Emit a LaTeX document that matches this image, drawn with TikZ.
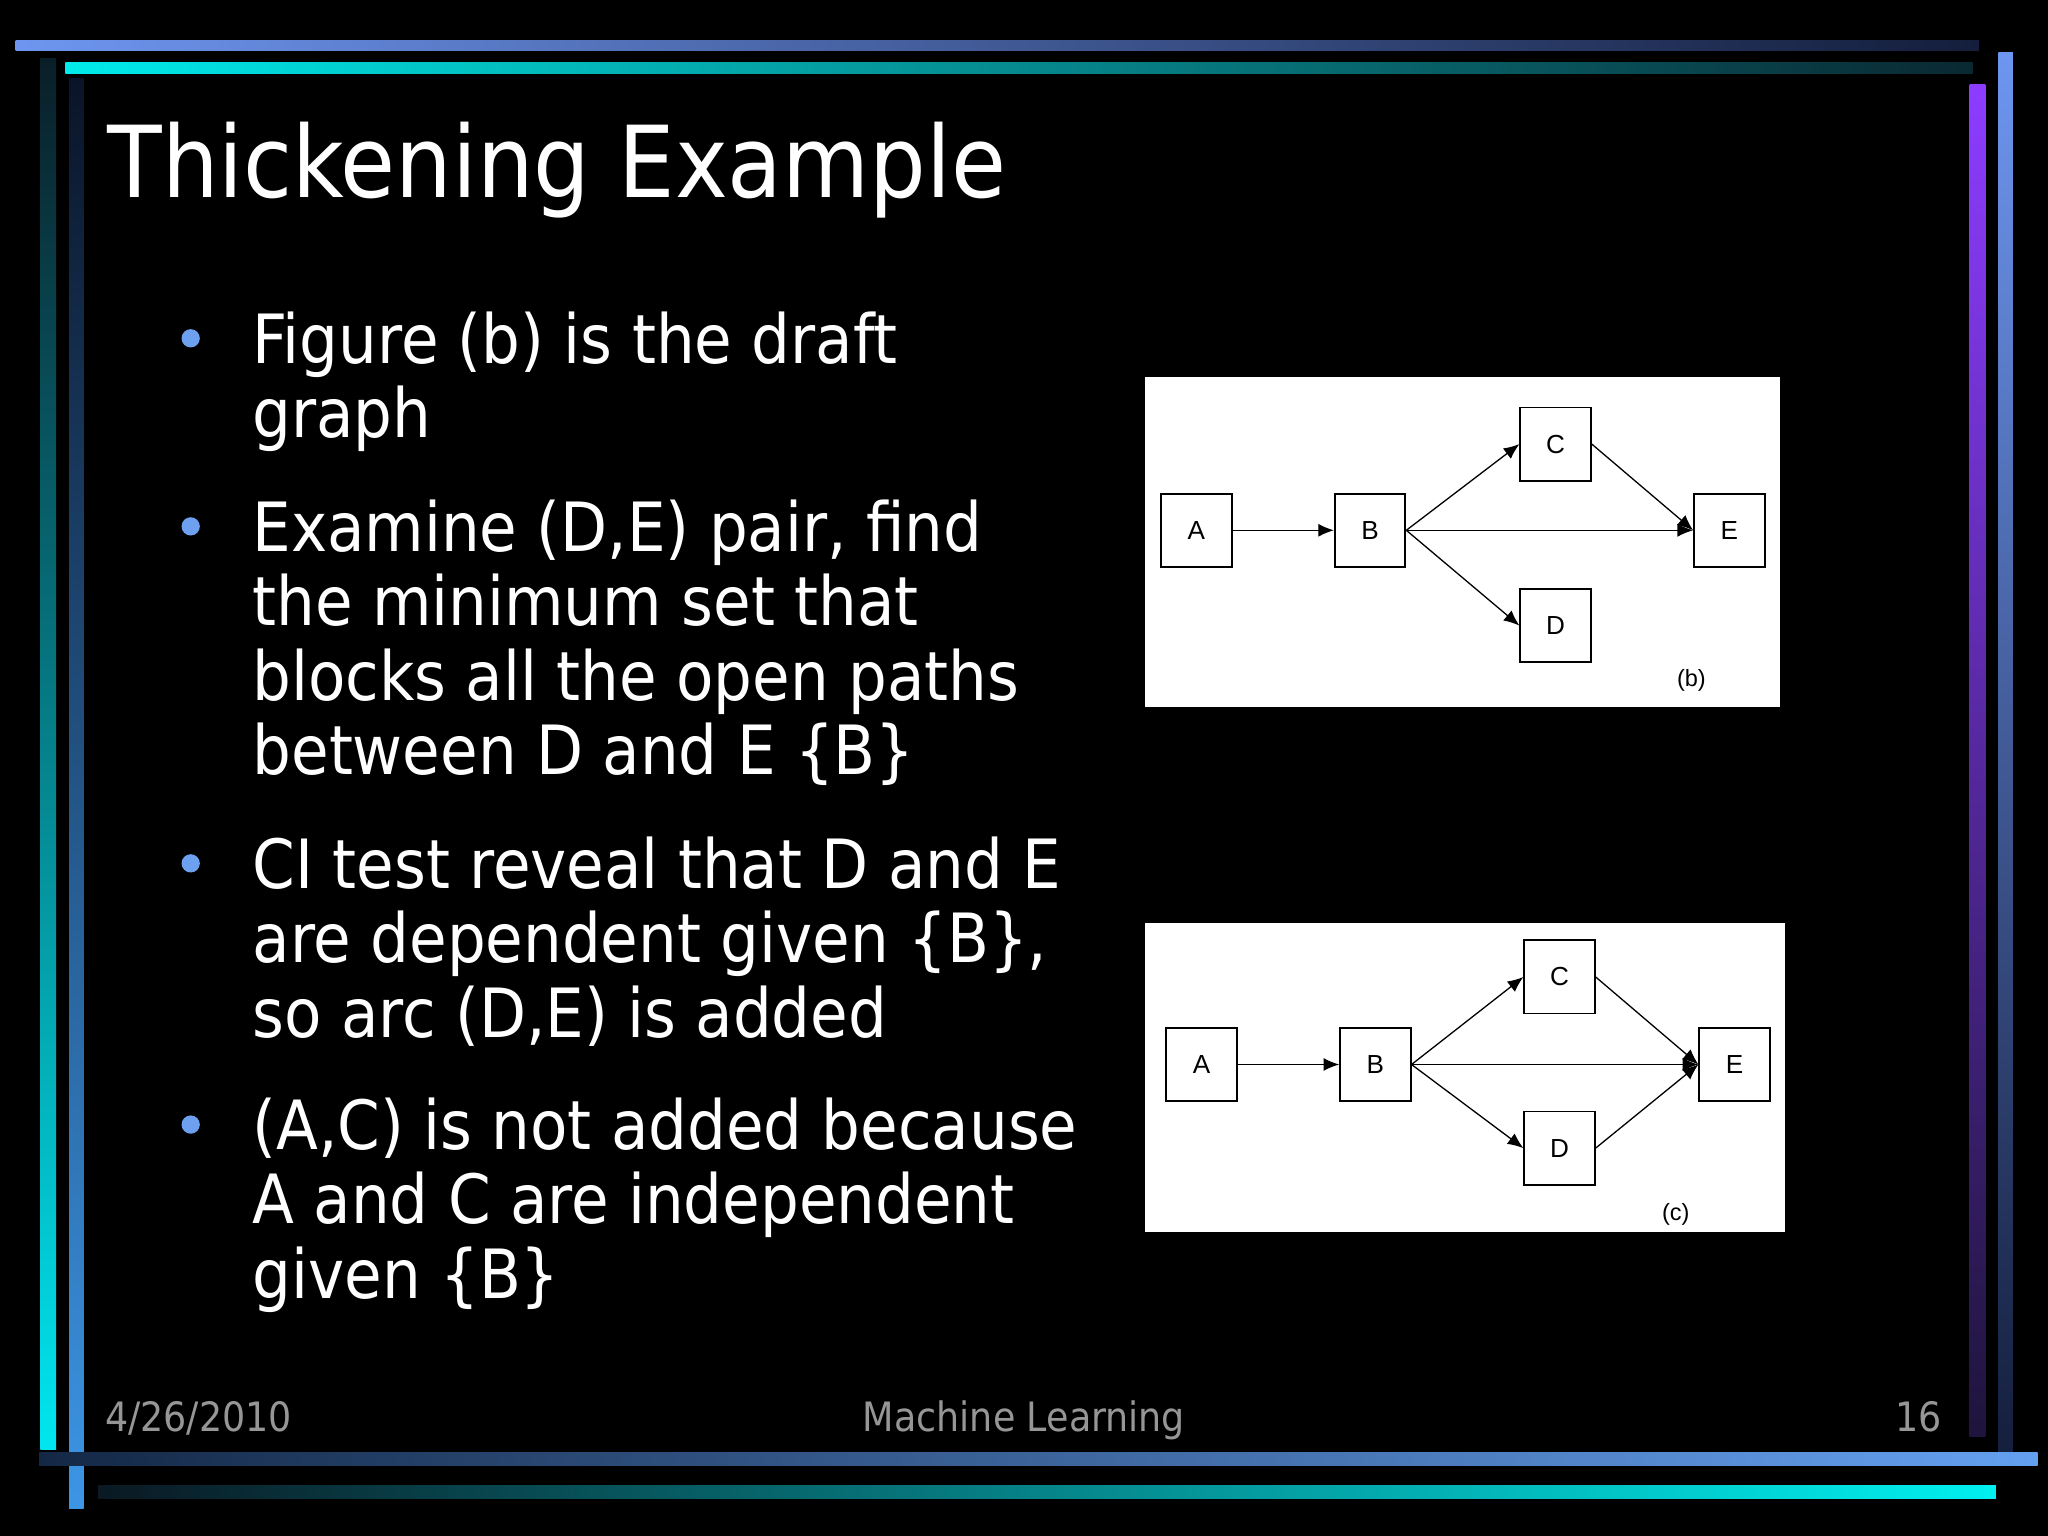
\documentclass[tikz,border=0pt]{standalone}
\usepackage{fontspec}
\setmainfont{DejaVu Sans Condensed}
\newfontfamily\nodefont{Liberation Sans}
\usetikzlibrary{arrows.meta}
\definecolor{bul}{RGB}{110,160,240}
\definecolor{foot}{RGB}{150,150,150}
\tikzset{
  bx/.style={draw=black,fill=white,line width=0.7pt,minimum width=27pt,minimum height=28pt,inner sep=0pt,font=\nodefont\fontsize{10}{10}\selectfont},
  ar/.style={-{Latex[length=6pt,width=5pt]},line width=0.5pt},
  body/.style={anchor=base west,align=left,text=white,font=\fontsize{26}{28.5}\selectfont,inner sep=0pt},
  bullet/.style={circle,fill=bul,inner sep=0pt,minimum size=7pt},
  ft/.style={text=foot,font=\fontsize{15.5}{16}\selectfont,inner sep=0pt,anchor=base}
}
\begin{document}
\begin{tikzpicture}[x=0.5pt,y=-0.5pt]
\fill[black] (0,0) rectangle (1568,1176);
\useasboundingbox (0,0) rectangle (1568,1176);
% frame bars
\shade[left color={rgb,255:red,110;green,150;blue,240},right color={rgb,255:red,20;green,30;blue,60}] (12,31) rectangle (1515,39);
\shade[left color={rgb,255:red,0;green,235;blue,235},right color={rgb,255:red,10;green,40;blue,50}] (50,48) rectangle (1510,56);
\shade[top color={rgb,255:red,10;green,30;blue,40},bottom color={rgb,255:red,0;green,230;blue,240}] (31,45) rectangle (43,1110);
\shade[top color={rgb,255:red,10;green,20;blue,40},bottom color={rgb,255:red,60;green,150;blue,230}] (53,60) rectangle (64,1155);
\shade[top color={rgb,255:red,140;green,60;blue,255},bottom color={rgb,255:red,30;green,20;blue,60}] (1508,65) rectangle (1520,1100);
\shade[top color={rgb,255:red,110;green,150;blue,240},bottom color={rgb,255:red,20;green,30;blue,60}] (1530,40) rectangle (1541,1120);
\shade[left color={rgb,255:red,20;green,40;blue,70},right color={rgb,255:red,100;green,160;blue,240}] (30,1112) rectangle (1560,1122);
\shade[left color={rgb,255:red,10;green,25;blue,35},right color={rgb,255:red,0;green,240;blue,240}] (75,1137) rectangle (1528,1147);
% title
\node[anchor=base west,text=white,font=\fontsize{38}{38}\selectfont,inner sep=0pt] (title) at (82,151) {Thickening Example};
% bullets
\node[bullet] (b1) at (146,259) {};
\node[bullet] (b2) at (146,403) {};
\node[bullet] (b3) at (146,661) {};
\node[bullet] (b4) at (146,861) {};
\node[body] (t1) at (193,335) {Figure (b) is the draft\\graph};
\node[body] (t2) at (193,593) {Examine (D,E) pair, find\\the minimum set that\\blocks all the open paths\\between D and E \{B\}};
\node[body] (t3) at (193,794) {CI test reveal that D and E\\are dependent given \{B\},\\so arc (D,E) is added};
\node[body] (t4) at (193,994) {(A,C) is not added because\\A and C are independent\\given \{B\}};
% figure b
\fill[white] (877,289) rectangle (1363,541);
\node[bx] (A1) at (916,406) {A};
\node[bx] (B1) at (1049,406) {B};
\node[bx] (C1) at (1191,340) {C};
\node[bx] (E1) at (1324,406) {E};
\node[bx] (D1) at (1191,479) {D};
\node[font=\nodefont\fontsize{9}{9}\selectfont,inner sep=0pt] (lb) at (1295,521) {(b)};
\draw[ar] (A1) -- (B1);
\draw[ar] (B1.east) -- (C1.west);
\draw[ar] (B1.east) -- (E1.west);
\draw[ar] (B1.east) -- (D1.west);
\draw[ar] (C1.east) -- (E1.west);
% figure c
\fill[white] (877,707) rectangle (1367,943);
\node[bx] (A2) at (920,815) {A};
\node[bx] (B2) at (1053,815) {B};
\node[bx] (C2) at (1194,748) {C};
\node[bx] (E2) at (1328,815) {E};
\node[bx] (D2) at (1194,879) {D};
\node[font=\nodefont\fontsize{9}{9}\selectfont,inner sep=0pt] (lc) at (1283,930) {(c)};
\draw[ar] (A2) -- (B2);
\draw[ar] (B2.east) -- (C2.west);
\draw[ar] (B2.east) -- (E2.west);
\draw[ar] (B2.east) -- (D2.west);
\draw[ar] (C2.east) -- (E2.west);
\draw[ar] (D2.east) -- (E2.west);
% footer
\node[ft,anchor=base west] (f1) at (80,1096) {4/26/2010};
\node[ft] (f2) at (784,1096) {Machine Learning};
\node[ft,anchor=base east] (f3) at (1487,1096) {16};
\end{tikzpicture}
\end{document}
